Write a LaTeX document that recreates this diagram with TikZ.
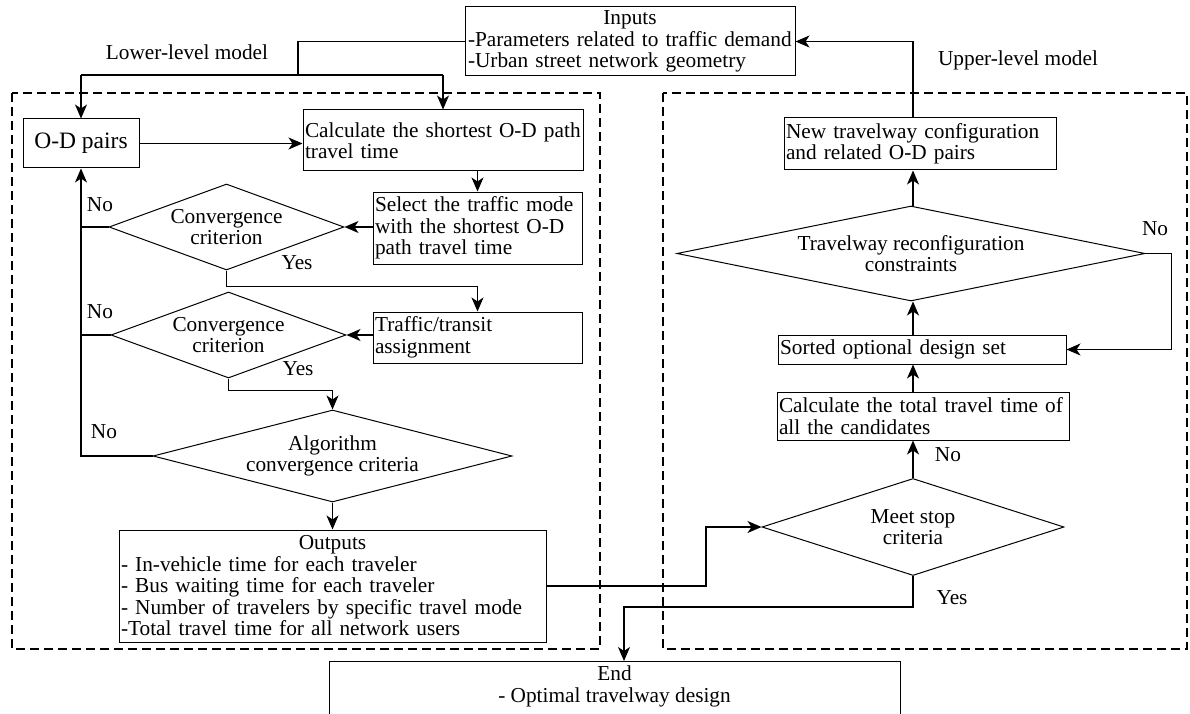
\documentclass[tikz,border=0pt]{standalone}
\usepackage{fontspec}
\setmainfont{Liberation Serif}
\usetikzlibrary{arrows.meta,shapes.geometric,calc}
\begin{document}
\begin{tikzpicture}[x=1pt,y=-1pt,
  every node/.style={font=\fontsize{21.3}{21.5}\selectfont},
  box/.style={draw, line width=1pt, rectangle, inner xsep=2pt, inner ysep=1pt, align=left},
  dia/.style={draw, line width=1pt, diamond, inner sep=0pt, align=center},
  conn/.style={line width=1.1pt},
  arr/.style={conn, -{Stealth[length=14pt,width=12pt,inset=4pt]}},
  region/.style={line width=2.2pt, dash pattern=on 9pt off 5pt},
  lbl/.style={inner sep=0pt}
]
\clip (0,0) rectangle (1190,714);
\fill[white] (0,0) rectangle (1190,714);

% regions
\draw[region] (12,93) rectangle (600,649);
\draw[region] (663,93) rectangle (1187,649);

% top
\node[box, minimum width=330, minimum height=69, text width=324] (inputs) at (630,41.5)
  {\makebox[\hsize][c]{Inputs}\\-Parameters related to traffic demand\\-Urban street network geometry};
\node[lbl] (lower) at (187,52) {Lower-level model};
\node[lbl] (upper) at (1018,60) {Upper-level model};

% lower-level
\node[box, font=\fontsize{23.5}{24}\selectfont, minimum width=116, minimum height=49, align=center] (od) at (81,143.5) {O-D pairs};
\node[box, minimum width=280, minimum height=61, text width=276] (calc) at (443,140.5) {Calculate the shortest O-D path\\travel time};
\node[box, minimum width=209, minimum height=72, text width=205] (select) at (477.5,228) {Select the traffic mode\\with the shortest O-D\\path travel time};
\node[dia, aspect=2.73, minimum width=235, minimum height=86] (d1) at (226.5,227) {Convergence\\criterion};
\node[box, minimum width=209, minimum height=51, text width=205] (traffic) at (477.5,337.5) {Traffic/transit\\assignment};
\node[dia, aspect=2.73, minimum width=235, minimum height=86] (d2) at (228.5,335) {Convergence\\criterion};
\node[dia, aspect=3.9, minimum width=359, minimum height=92] (d3) at (332.5,456) {Algorithm\\convergence criteria};
\node[box, minimum width=427, minimum height=112, text width=423] (outputs) at (332.5,586)
  {\makebox[\hsize][c]{Outputs}\\- In-vehicle time for each traveler\\- Bus waiting time for each traveler\\- Number of travelers by specific travel mode\\-Total travel time for all network users};

% upper-level
\node[box, minimum width=272, minimum height=52, text width=268] (newb) at (920,144) {New travelway configuration\\and related O-D pairs};
\node[dia, aspect=4.93, minimum width=468, minimum height=95] (d4) at (911,253.5) {Travelway reconfiguration\\constraints};
\node[box, minimum width=288, minimum height=29, text width=284] (sorted) at (922,349.5) {Sorted optional design set};
\node[box, minimum width=292, minimum height=48, text width=288] (calc2) at (923,416) {Calculate the total travel time of\\all the candidates};
\node[dia, aspect=3.11, minimum width=302, minimum height=97] (d5) at (913,527) {Meet stop\\criteria};

% end
\node[draw, line width=1pt, minimum width=571, minimum height=100, anchor=north, inner sep=0pt] (endb) at (614.5,661) {};
\node[lbl, anchor=north, align=center] (endt) at (614.5,666) {End\\- Optimal travelway design};

% labels
\node[lbl] (no1) at (100,205) {No};
\node[lbl] (no2) at (100,312) {No};
\node[lbl] (no3) at (104,432) {No};
\node[lbl] (yes1) at (297,263) {Yes};
\node[lbl] (yes2) at (298,369) {Yes};
\node[lbl] (no4) at (1155,229) {No};
\node[lbl] (no5) at (948,455) {No};
\node[lbl] (yes3) at (952,598) {Yes};

% coordinates
\coordinate (busM) at (298,75);
\coordinate (elbow) at (706,0);
\coordinate (endin) at ($(endb.north)+(9.5,0)$);

% connectors lower
\draw[conn] (inputs.west) -| (busM);
\draw[conn] (od.north |- busM) -- (calc.north |- busM);
\draw[arr] (od.north |- busM) -- (od.north);
\draw[arr] (calc.north |- busM) -- (calc.north);
\draw[arr] (od.east) -- (od.east -| calc.west);
\draw[arr] (select.north |- calc.south) -- (select.north);
\draw[arr] (select.west |- d1.east) -- (d1.east);
\draw[conn] (d1.west) -- (d1.west -| od.south);
\draw[conn] (d2.west) -- (d2.west -| od.south);
\draw[arr] (d3.west) -| (od.south);
\draw[arr] (d1.south) -- ++(0,16) -| (traffic.north);
\draw[arr] (traffic.west |- d2.east) -- (d2.east);
\draw[arr] (d2.south) -- ++(0,12) -| (d3.north);
\draw[arr] (d3.south) -- (outputs.north);
\draw[arr] (outputs.east) -- (outputs.east -| elbow) |- (d5.west);

% connectors upper
\draw[arr] (d5.north) -- (d5.north |- calc2.south);
\draw[arr] (calc2.north -| d5.north) -- (sorted.south -| d5.north);
\draw[arr] (sorted.north -| d5.north) -- (d5.north |- d4.south);
\draw[arr] (d5.north |- d4.north) -- (newb.south -| d5.north);
\draw[arr] (newb.north -| d5.north) |- (inputs.east);
\draw[arr] (d4.east) -- ++(26,0) |- (sorted.east);
\draw[arr] (d5.south) -- ++(0,31) -| (endin);
\end{tikzpicture}
\end{document}
